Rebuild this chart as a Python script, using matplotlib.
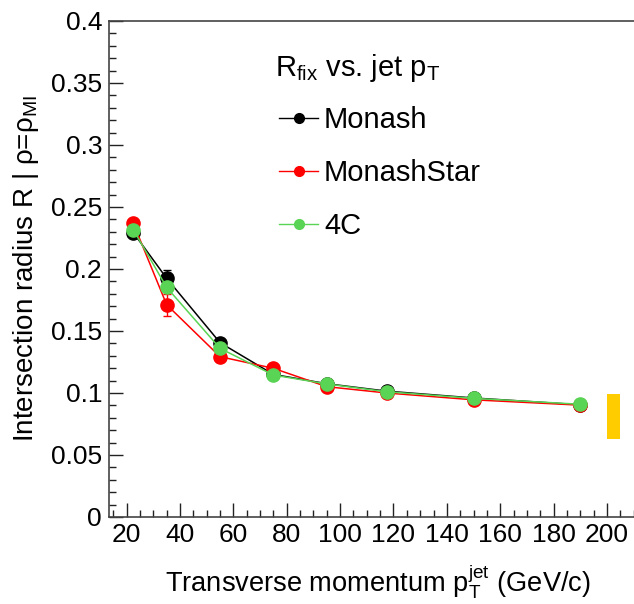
import matplotlib
matplotlib.use("Agg")
import matplotlib.pyplot as plt
from matplotlib.ticker import MultipleLocator
from matplotlib.patches import Rectangle
from matplotlib.lines import Line2D

plt.rcParams['font.family'] = ['Liberation Sans', 'DejaVu Sans']
plt.rcParams['mathtext.fontset'] = 'custom'
plt.rcParams['mathtext.rm'] = 'Liberation Sans'
plt.rcParams['mathtext.it'] = 'Liberation Sans'
plt.rcParams['mathtext.default'] = 'regular'

# Data
pt = [22.5, 35, 55, 75, 95, 117.5, 150, 190]
monash = [0.2294, 0.1925, 0.1406, 0.1150, 0.1075, 0.1015, 0.0960, 0.0905]
monash_err = [0.002, 0.007, 0.002, 0.002, 0.001, 0.001, 0.001, 0.001]
monashstar = [0.2369, 0.1712, 0.1293, 0.1199, 0.1051, 0.1000, 0.0945, 0.0902]
monashstar_err = [0.002, 0.009, 0.002, 0.002, 0.001, 0.001, 0.001, 0.001]
c4 = [0.2317, 0.1852, 0.1360, 0.1145, 0.1073, 0.1010, 0.0957, 0.0909]
c4_err = [0.002, 0.004, 0.002, 0.002, 0.001, 0.001, 0.001, 0.001]
syst_x = [200.0, 205.0]
syst_y = [0.0631, 0.0992]

W, H = 634, 604
fig = plt.figure(figsize=(W / 100, H / 100), dpi=100)
left, right, top, bottom = 109, 647, 21, 517
ax = fig.add_axes([left / W, 1 - bottom / H, (right - left) / W, (bottom - top) / H])

series = [
    (monash, monash_err, 'black', 'Monash'),
    (monashstar, monashstar_err, '#ff0000', 'MonashStar'),
    (c4, c4_err, '#59d454', '4C'),
]
handles = []
for vals, errs, col, lab in series:
    ax.errorbar(pt, vals, yerr=errs, color=col, marker='o', markersize=9.5,
                linewidth=1.1, elinewidth=1.0, capsize=3)
    handles.append(Line2D([], [], color=col, marker='o', markersize=7,
                          linewidth=1.0, label=lab))

ax.add_patch(Rectangle((syst_x[0], syst_y[0]), syst_x[1] - syst_x[0],
                       syst_y[1] - syst_y[0], facecolor='#ffcc00', edgecolor='none'))

ax.set_xlim(13.4, 215)
ax.set_ylim(0, 0.4)
ax.xaxis.set_major_locator(MultipleLocator(20))
ax.xaxis.set_minor_locator(MultipleLocator(5))
ax.yaxis.set_major_locator(MultipleLocator(0.05))
ax.yaxis.set_minor_locator(MultipleLocator(0.01))
ax.yaxis.set_major_formatter(plt.FuncFormatter(lambda v, p: ('%g' % round(v, 3))))
ax.tick_params(which='major', direction='in', length=10, width=1.0, labelsize=19,
               top=False, right=False, pad=5, colors='#222222', labelcolor='black')
ax.tick_params(which='minor', direction='in', length=5, width=1.0,
               top=False, right=False, colors='#222222')
ax.tick_params(axis='x', which='major', pad=4)
for s in ax.spines.values():
    s.set_linewidth(1.2)
    s.set_color('#444444')

ax.set_xlabel(r'Transverse momentum p$_{T}^{jet}$ (GeV/c)', fontsize=19.6, labelpad=11)
ax.set_ylabel(r'Intersection radius R | ρ=ρ$_{MI}$', fontsize=20, labelpad=7)

fig.text(275 / W, 1 - 68 / H, r'R$_{fix}$ vs. jet p$_{T}$', fontsize=21,
         ha='left', va='center')
leg = ax.legend(handles=handles, loc='upper left',
                bbox_to_anchor=((279 - left) / (right - left), 1 - (106 - top) / (bottom - top)),
                frameon=False, fontsize=21, handlelength=1.34, handletextpad=0.2,
                labelspacing=0.86, borderaxespad=0, borderpad=0)

fig.savefig('out.png', dpi=100)
